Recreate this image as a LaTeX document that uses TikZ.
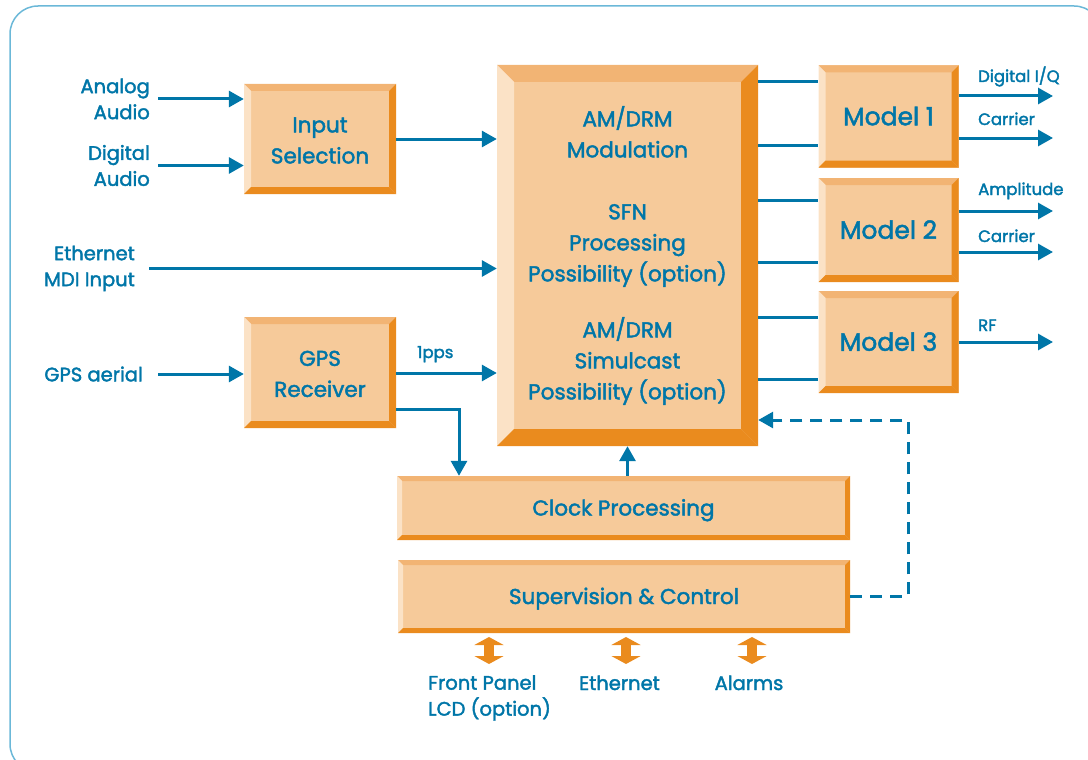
\documentclass[tikz,border=0pt]{standalone}
\usepackage{fontspec}
\setmainfont{Poppins}[UprightFeatures={FakeBold=2}]
\usetikzlibrary{arrows.meta,calc}
\definecolor{txt}{HTML}{0076A8}
\definecolor{peach}{HTML}{F6CA9A}
\definecolor{btop}{HTML}{F2B474}
\definecolor{bleft}{HTML}{FBE2C6}
\definecolor{bdark}{HTML}{EA8B1E}
\definecolor{framec}{HTML}{6BB8D8}
\newcommand\drawbevel[1]{%
  \path (path picture bounding box.north west) coordinate (bnw)
        (path picture bounding box.north east) coordinate (bne)
        (path picture bounding box.south west) coordinate (bsw)
        (path picture bounding box.south east) coordinate (bse);
  \fill[btop] (bnw) -- (bne) -- ([xshift=-#1pt,yshift=-#1pt]bne) -- ([xshift=#1pt,yshift=-#1pt]bnw) -- cycle;
  \fill[bleft] (bnw) -- ([xshift=#1pt,yshift=-#1pt]bnw) -- ([xshift=#1pt,yshift=#1pt]bsw) -- (bsw) -- cycle;
  \fill[bdark] (bsw) -- (bse) -- ([xshift=-#1pt,yshift=#1pt]bse) -- ([xshift=#1pt,yshift=#1pt]bsw) -- cycle;
  \fill[bdark] (bne) -- (bse) -- ([xshift=-#1pt,yshift=#1pt]bse) -- ([xshift=-#1pt,yshift=-#1pt]bne) -- cycle;
}
\tikzset{
  bevbox/.style={rectangle, inner sep=0pt, fill=peach, text=txt, align=center,
    font=\fontsize{21.5}{31}\selectfont, path picture={\drawbevel{#1}}},
  oneline/.style={text height=#1, text depth=0pt},
  lbl/.style={inner sep=0pt, text=txt, font=\fontsize{19.5}{26}\selectfont},
  slbl/.style={inner sep=0pt, text=txt, font=\fontsize{16.5}{20}\selectfont},
  arr/.style={draw=txt, line width=3pt, -{Triangle[length=15pt,width=16pt]}},
  ln/.style={draw=txt, line width=3pt},
  dbl/.style={draw=bdark, line width=10pt, {Triangle[length=8pt,width=29pt]}-{Triangle[length=8pt,width=29pt]}},
}
\begin{document}
\begin{tikzpicture}[x=1pt,y=-1pt]
\useasboundingbox (0,0) rectangle (1088,760);
\draw[framec, line width=1.5pt, rounded corners=28pt] (10,6) rectangle (1102,772);

% boxes
\node[bevbox=7, minimum width=152pt, minimum height=110pt] (input) at (320,139) {\rule{0pt}{18pt}Input\\Selection};
\node[bevbox=7, minimum width=152pt, minimum height=111pt] (gps) at (320,372.5) {\rule{0pt}{18pt}GPS\\Receiver};
\node[bevbox=17, minimum width=261pt, minimum height=381pt] (main) at (627.5,255.5)
  {AM/DRM\\Modulation\\[31pt]SFN\\Processing\\Possibility (option)\\[25pt]AM/DRM\\Simulcast\\Possibility (option)};
\node[bevbox=7, oneline=17.5pt, minimum width=140pt, minimum height=102pt, font=\fontsize{25}{30}\selectfont] (m1) at (888.5,116.5) {Model 1};
\node[bevbox=7, oneline=17.5pt, minimum width=140pt, minimum height=104pt, font=\fontsize{25}{30}\selectfont] (m2) at (888.5,230) {Model 2};
\node[bevbox=7, oneline=17.5pt, minimum width=140pt, minimum height=102pt, font=\fontsize{25}{30}\selectfont] (m3) at (888.5,342) {Model 3};
\node[bevbox=5, oneline=15pt, minimum width=453pt, minimum height=64pt] (clock) at (623.5,508) {Clock Processing};
\node[bevbox=5, oneline=15pt, minimum width=452pt, minimum height=73pt] (sup) at (624,596.5) {Supervision \& Control};

% left labels
\node[lbl, anchor=east, align=right] (analog) at (150,99) {Analog\\Audio};
\node[lbl, anchor=east, align=right] (digital) at (150,165.5) {Digital\\Audio};
\node[lbl, anchor=east, align=right] (eth) at (135,268.5) {Ethernet\\MDI Input};
\node[lbl, anchor=east] (aerial) at (143,374) {GPS aerial};

\draw[arr] ([xshift=8pt]analog.east) -- (analog.east -| input.west);
\draw[arr] ([xshift=8pt]digital.east) -- (digital.east -| input.west);
\draw[arr] (input.east) -- (input.east -| main.west);
\draw[arr] ([xshift=14pt]eth.east) -- (eth.east -| main.west);
\draw[arr] ([xshift=15pt]aerial.east) -- (aerial.east -| gps.west);
\draw[arr] (gps.east |- 0,373) -- (main.west |- 0,373);
\node[slbl, anchor=base west] (pps) at (417,358) {1pps};
\draw[arr] (gps.east |- 0,409) -| (clock.north -| 459,0);
\draw[arr] (clock.north -| main.south) -- (main.south);

% main to models
\foreach \y/\m in {82/m1,145/m1,200/m2,262/m2,317/m3,379/m3}{
  \draw[ln] (main.east |- 0,\y) -- (\m.west |- 0,\y);
}
% outputs
\coordinate (o1) at (1053,96);
\coordinate (o2) at (1053,138);
\coordinate (o3) at (1053,211);
\coordinate (o4) at (1053,252);
\coordinate (o5) at (1053,342);
\draw[arr] (m1.east |- o1) -- (o1);
\draw[arr] (m1.east |- o2) -- (o2);
\draw[arr] (m2.east |- o3) -- (o3);
\draw[arr] (m2.east |- o4) -- (o4);
\draw[arr] (m3.east |- o5) -- (o5);
\node[slbl, anchor=base west] (t1) at (978,82) {Digital I/Q};
\node[slbl, anchor=base west] (t2) at (978,125) {Carrier};
\node[slbl, anchor=base west] (t3) at (978,195) {Amplitude};
\node[slbl, anchor=base west] (t4) at (978,242) {Carrier};
\node[slbl, anchor=base west] (t5) at (978,331) {RF};

% dashed feedback
\coordinate (c1) at (908,420);
\draw[txt, line width=3pt, dash pattern=on 12pt off 8pt, -{Triangle[length=15pt,width=16pt]}]
  (sup.east) -| (c1) -- (c1 -| main.east);

% bottom labels
\node[lbl, anchor=north west, align=left] (lcd) at (428,675) {Front Panel\\LCD (option)};
\node[lbl, anchor=base] (ethb) at (619.5,690) {Ethernet};
\node[lbl, anchor=base] (alarms) at (749,690) {Alarms};
\coordinate (a1) at (489,637); \coordinate (b1) at (489,664);
\coordinate (a2) at (626,637); \coordinate (b2) at (626,664);
\coordinate (a3) at (752,637); \coordinate (b3) at (752,664);
\draw[dbl] (a1) -- (b1);
\draw[dbl] (a2) -- (b2);
\draw[dbl] (a3) -- (b3);
\end{tikzpicture}
\end{document}
